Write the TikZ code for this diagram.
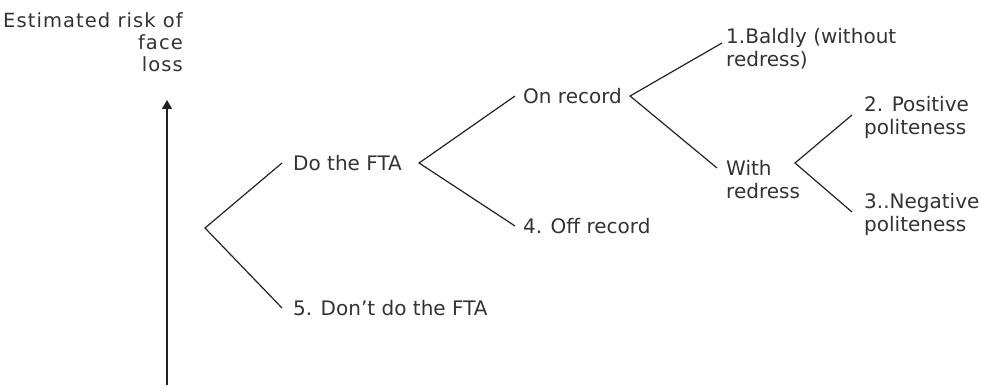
\documentclass[tikz,border=0pt]{standalone}
\usepackage{fontspec}
\setmainfont{DejaVu Sans}
\newfontfamily\titlefont[LetterSpace=5.5]{DejaVu Sans}
\usetikzlibrary{arrows.meta}
\definecolor{txt}{HTML}{333333}
\definecolor{ln}{HTML}{222222}
\begin{document}
\begin{tikzpicture}[x=1pt,y=-1pt,
  lbl/.style={inner sep=0pt, text=txt, font=\fontsize{20}{23}\selectfont, align=left, anchor=base west},
  one/.style={lbl, text height=14.5pt, text depth=0pt, anchor=west},
  br/.style={draw=ln, line width=1.2pt},
  axis/.style={draw=ln, line width=1.3pt, -{Triangle[length=9pt,width=10pt]}}]
\useasboundingbox (0,0) rectangle (981,385);
% labels (base anchor = baseline of the last line)
\node[lbl, font=\titlefont\fontsize{19.5}{22}\selectfont, align=right, anchor=base east] (title) at (183,72) {Estimated risk of\\face\\loss};
\node[one] (dofta) at (293,163) {Do the FTA};
\node[one] (dont) at (293,308) {5. Don’t do the FTA};
\node[one] (onrec) at (523,96) {On record};
\node[one] (offrec) at (523,226) {4. Off record};
\node[lbl] (baldly) at (726,67) {1.Baldly (without\\redress)};
\node[lbl] (withr) at (726,198) {With\\redress};
\node[lbl] (pos) at (864,134) {2. Positive\\politeness};
\node[lbl] (neg) at (864,231) {3..Negative\\politeness};
% fork vertices
\coordinate (v1) at (205,228);
\coordinate (v2) at ([xshift=17pt]dofta.east);
\coordinate (v3) at ([xshift=8pt]onrec.east);
\coordinate (v4) at (795,163);
% axis
\coordinate (axbot) at (167,385);
\coordinate (axtop) at (167,100);
\draw[axis] (axbot) -- (axtop);
% branches
\draw[br] ([xshift=-11pt]dofta.west) -- (v1) -- ([xshift=-11pt]dont.west);
\draw[br] ([xshift=-8pt]onrec.west) -- (v2) -- ([xshift=-8pt]offrec.west);
\draw[br] ([shift={(-4,-24)}]baldly.base west) -- (v3) -- ([shift={(-9,-30)}]withr.base west);
\draw[br] ([shift={(-12,-19)}]pos.base west) -- (v4) -- ([shift={(-12,-19)}]neg.base west);
\end{tikzpicture}
\end{document}
